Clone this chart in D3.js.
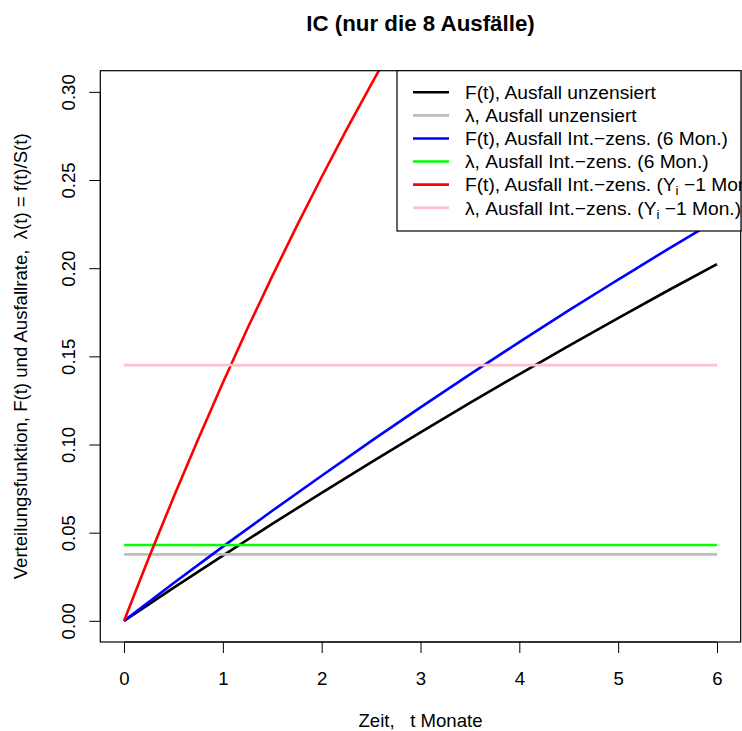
<!DOCTYPE html>
<html>
<head>
<meta charset="utf-8">
<script src="https://cdn.jsdelivr.net/npm/d3@7"></script>
<style>
  html, body { margin: 0; padding: 0; background: #fff; }
  svg { display: block; font-family: "Liberation Sans", Arial, Helvetica, sans-serif; }
  text { white-space: pre; }
</style>
</head>
<body>
<svg id="chart" width="742" height="731"></svg>
<script>
// ---- data ----
const title = "IC (nur die 8 Ausfälle)";
const xLabel = "Zeit,   t Monate";
const yLabel = "Verteilungsfunktion, F(t) und Ausfallrate,  λ(t) = f(t)/S(t)";
const xTicks = [0, 1, 2, 3, 4, 5, 6];
const yTicks = [0.00, 0.05, 0.10, 0.15, 0.20, 0.25, 0.30];

const tGrid = [0, 0.5, 1, 1.5, 2, 2.5, 3, 3.5, 4, 4.5, 5, 5.5, 6];
const fUnzensiert = [0, 0.0187, 0.0370, 0.0550, 0.0726, 0.0899, 0.1069, 0.1236, 0.1399, 0.1560, 0.1717, 0.1872, 0.2023];
const fInt6 = [0, 0.0213, 0.0421, 0.0624, 0.0823, 0.1019, 0.1211, 0.1398, 0.1581, 0.1761, 0.1935, 0.2107, 0.2274];
const tRed = [0, 0.25, 0.5, 0.75, 1, 1.25, 1.5, 1.75, 2, 2.25, 2.5, 2.75, 3];
const fIntY1 = [0, 0.0356, 0.0699, 0.1030, 0.1350, 0.1659, 0.1955, 0.2241, 0.2517, 0.2784, 0.3041, 0.3289, 0.3527];

const lambdaUnzensiert = 0.0377;
const lambdaInt6 = 0.0430;
const lambdaIntY1 = 0.1450;

const legendLabels = [
  "F(t), Ausfall unzensiert",
  "λ, Ausfall unzensiert",
  "F(t), Ausfall Int.−zens. (6 Mon.)",
  "λ, Ausfall Int.−zens. (6 Mon.)",
  "F(t), Ausfall Int.−zens. (Y|i| −1 Mon.)",
  "λ, Ausfall Int.−zens. (Y|i| −1 Mon.)"
];
const legendColors = ["#000000", "#BEBEBE", "#0000FF", "#00FF00", "#FF0000", "#FFC0CB"];

// ---- layout ----
const svg = d3.select("#chart");
const W = 742, H = 731;
const plot = { left: 100.3, right: 740.7, top: 70.7, bottom: 642 };
const fs = 18.6;
const legFs = 19.2;

const x = d3.scaleLinear().domain([-0.24, 6.24]).range([plot.left, plot.right]);
const y = d3.scaleLinear().domain([-0.012, 0.312]).range([plot.bottom, plot.top]);

svg.append("rect").attr("width", W).attr("height", H).attr("fill", "#fff");

svg.append("defs").append("clipPath").attr("id", "clip")
  .append("rect")
  .attr("x", plot.left).attr("y", plot.top)
  .attr("width", plot.right - plot.left).attr("height", plot.bottom - plot.top);

const g = svg.append("g").attr("clip-path", "url(#clip)");
const line = d3.line().x(d => x(d[0])).y(d => y(d[1])).curve(d3.curveMonotoneX);
const lw = 2.6;

function curve(ts, vs, color) {
  g.append("path").datum(ts.map((t, i) => [t, vs[i]]))
    .attr("d", line).attr("fill", "none").attr("stroke", color).attr("stroke-width", lw);
}
function hline(v, color) {
  g.append("path").datum([[0, v], [6, v]])
    .attr("d", line).attr("fill", "none").attr("stroke", color).attr("stroke-width", lw);
}
curve(tGrid, fUnzensiert, legendColors[0]);
hline(lambdaUnzensiert, legendColors[1]);
curve(tGrid, fInt6, legendColors[2]);
hline(lambdaInt6, legendColors[3]);
curve(tRed, fIntY1, legendColors[4]);
hline(lambdaIntY1, legendColors[5]);

// ---- axes ----
const xAxis = d3.axisBottom(x).tickValues(xTicks).tickSize(11).tickPadding(0).tickFormat(d3.format("d"));
const xg = svg.append("g").attr("transform", `translate(0,${plot.bottom})`).call(xAxis);
xg.select(".domain").remove();
xg.selectAll(".tick line").attr("stroke", "#000").attr("stroke-width", 1);
xg.selectAll(".tick text").attr("font-size", fs).attr("fill", "#000")
  .attr("font-family", "Liberation Sans, Arial, sans-serif")
  .attr("dy", null).attr("y", 685 - plot.bottom);

const yAxis = d3.axisLeft(y).tickValues(yTicks).tickSize(11).tickFormat(d3.format(".2f"));
const yg = svg.append("g").attr("transform", `translate(${plot.left},0)`).call(yAxis);
yg.select(".domain").remove();
yg.selectAll(".tick line").attr("stroke", "#000").attr("stroke-width", 1);
yg.selectAll(".tick text").attr("font-size", fs).attr("fill", "#000")
  .attr("font-family", "Liberation Sans, Arial, sans-serif")
  .attr("x", null).attr("dy", null)
  .attr("text-anchor", "middle")
  .attr("transform", `translate(${75 - plot.left},0) rotate(-90)`);

// axis lines along tick ranges
svg.append("line").attr("x1", x(0)).attr("x2", x(6)).attr("y1", plot.bottom).attr("y2", plot.bottom)
  .attr("stroke", "#000").attr("stroke-width", 1);
svg.append("line").attr("x1", plot.left).attr("x2", plot.left).attr("y1", y(0)).attr("y2", y(0.3))
  .attr("stroke", "#000").attr("stroke-width", 1);

// box
svg.append("rect").attr("x", plot.left).attr("y", plot.top)
  .attr("width", plot.right - plot.left).attr("height", plot.bottom - plot.top)
  .attr("fill", "none").attr("stroke", "#000").attr("stroke-width", 1.2);

// ---- titles ----
svg.append("text").attr("x", (plot.left + plot.right) / 2).attr("y", 31)
  .attr("text-anchor", "middle").attr("font-weight", "bold").attr("font-size", fs * 1.2)
  .text(title);
svg.append("text").attr("x", (plot.left + plot.right) / 2).attr("y", 727)
  .attr("text-anchor", "middle").attr("font-size", fs).text(xLabel);
svg.append("text")
  .attr("transform", `translate(27.3,${(plot.top + plot.bottom) / 2}) rotate(-90)`)
  .attr("text-anchor", "middle").attr("font-size", fs).text(yLabel);

// ---- legend ----
const leg = { left: 397, top: plot.top, right: 741, bottom: 231 };
svg.append("rect").attr("x", leg.left).attr("y", leg.top)
  .attr("width", leg.right - leg.left).attr("height", leg.bottom - leg.top)
  .attr("fill", "#fff").attr("stroke", "#000").attr("stroke-width", 1.2);
const rowY = d3.scaleLinear().domain([0, 5]).range([92.3, 207.7]);
legendLabels.forEach((lab, i) => {
  const yy = rowY(i);
  svg.append("line").attr("x1", 413).attr("x2", 449).attr("y1", yy).attr("y2", yy)
    .attr("stroke", legendColors[i]).attr("stroke-width", lw);
  const t = svg.append("text").attr("x", 465).attr("y", yy + 6.8).attr("font-size", legFs);
  const parts = lab.split("|");
  parts.forEach((p, k) => {
    if (k % 2 === 1) {
      t.append("tspan").attr("font-size", legFs * 0.7).attr("dy", 4).text(p);
    } else {
      const ts = t.append("tspan").text(p);
      if (k > 0) ts.attr("dy", -4);
    }
  });
});
</script>
</body>
</html>
